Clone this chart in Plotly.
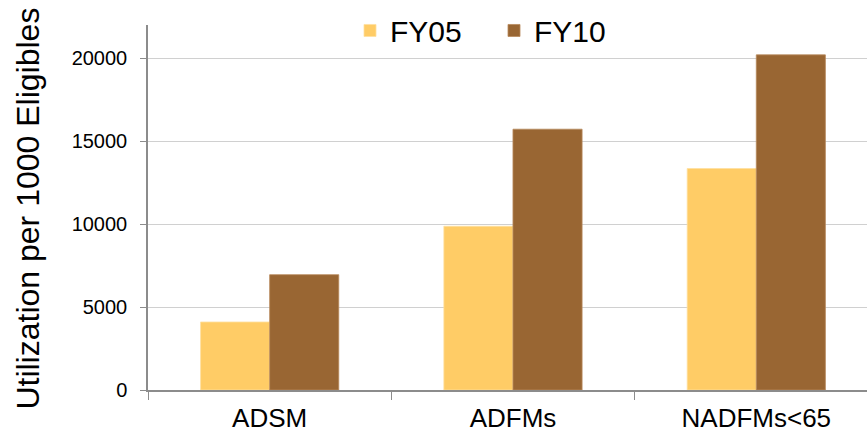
import plotly.graph_objects as go

categories = ["ADSM", "ADFMs", "NADFMs<65"]
fy05 = [4100, 9870, 13350]
fy10 = [6950, 15720, 20200]
series_names = ["FY05", "FY10"]
y_tick_values = [0, 5000, 10000, 15000, 20000]
y_tick_labels = ["0", "5000", "10000", "15000", "20000"]
y_title = "Utilization per 1000 Eligibles"

FONT = "Liberation Sans, Arial, sans-serif"
AXIS_GRAY = "#8c8c8c"

fig = go.Figure()
fig.add_trace(go.Bar(
    name=series_names[0], x=categories, y=fy05,
    marker=dict(color="#FFCC66", line=dict(color="#FFE0A0", width=0.8)),
))
fig.add_trace(go.Bar(
    name=series_names[1], x=categories, y=fy10,
    marker=dict(color="#996633", line=dict(color="#B8895C", width=0.8)),
))

fig.update_layout(
    width=867, height=433,
    margin=dict(l=148, r=0, t=25, b=41),
    paper_bgcolor="white", plot_bgcolor="white",
    barmode="group", bargap=0.432, bargroupgap=0,
    font=dict(family=FONT, color="#000000"),
    showlegend=True,
    legend=dict(
        orientation="h", x=(350 - 148) / 719, y=0.985, xanchor="left", yanchor="middle",
        font=dict(size=30, family=FONT), bgcolor="rgba(0,0,0,0)",
        itemclick=False, traceorder="normal", entrywidth=99,
    ),
    xaxis=dict(
        range=[-0.5, 2.455], showline=True, linecolor=AXIS_GRAY, linewidth=1.5,
        ticks="outside", tickson="boundaries", ticklen=8, tickcolor=AXIS_GRAY,
        tickwidth=1.2, tickfont=dict(size=26), ticklabelstandoff=4,
        showgrid=False, zeroline=False,
    ),
    yaxis=dict(
        range=[0, 22000], tickvals=y_tick_values, ticktext=y_tick_labels,
        showline=True, linecolor=AXIS_GRAY, linewidth=1.5,
        ticks="outside", ticklen=6, tickcolor=AXIS_GRAY, tickwidth=1.2,
        tickfont=dict(size=20), ticklabelstandoff=9,
        showgrid=True, gridcolor="#d0d0d0", gridwidth=1.2,
        zeroline=False,
    ),
    annotations=[dict(
        text=y_title, textangle=-90, showarrow=False,
        xref="paper", yref="paper", x=-(148 - 28) / 719, y=0.497,
        xanchor="center", yanchor="middle", font=dict(size=32, family=FONT),
    )],
)

fig.write_html("out.html")
